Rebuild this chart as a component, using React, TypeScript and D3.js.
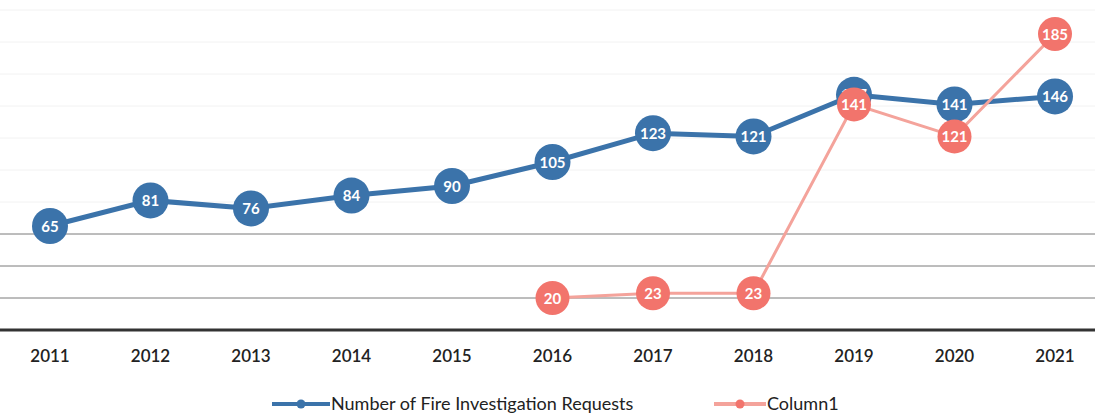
import { useEffect, useRef } from 'react';
import * as d3 from 'd3';

const years = ['2011', '2012', '2013', '2014', '2015', '2016', '2017', '2018', '2019', '2020', '2021'];
const requests: (number | null)[] = [65, 81, 76, 84, 90, 105, 123, 121, 147, 141, 146];
const column1: (number | null)[] = [null, null, null, null, null, 20, 23, 23, 141, 121, 185];
const gridValues = [20, 40, 60, 80, 100, 120, 140, 160, 180, 200];

const W = 1095;
const H = 419;

export default function App() {
  const svgRef = useRef<SVGSVGElement>(null);

  useEffect(() => {
    if (!svgRef.current) return;
    const svg = d3.select(svgRef.current);
    svg.selectAll('*').remove();

    const x = d3.scalePoint<string>().domain(years).range([50, 1055]);
    const y = d3.scaleLinear().domain([0, 200]).range([330, 10]);

    // gridlines, faint like the scan's upper area
    svg.append('g')
      .selectAll('line')
      .data(gridValues)
      .join('line')
      .attr('x1', 0)
      .attr('x2', W)
      .attr('y1', d => y(d))
      .attr('y2', d => y(d))
      .attr('stroke', d => (d <= 60 ? '#7a7a7a' : '#f2f2f2'))
      .attr('stroke-width', 1);

    // x axis
    svg.append('line')
      .attr('x1', 0)
      .attr('x2', W)
      .attr('y1', y(0))
      .attr('y2', y(0))
      .attr('stroke', '#333')
      .attr('stroke-width', 3);

    svg.append('g')
      .selectAll('text')
      .data(years)
      .join('text')
      .attr('x', d => x(d)!)
      .attr('y', y(0) + 32)
      .attr('text-anchor', 'middle')
      .style('font-family', 'Lato, "Open Sans", sans-serif')
      .style('font-size', '17px')
      .style('font-weight', 600)
      .style('fill', '#222')
      .text(d => d);

    const series = [
      { name: 'Column1', values: column1, line: '#f4a39b', marker: '#f2746c', width: 3, r: 17 },
      { name: 'Number of Fire Investigation Requests', values: requests, line: '#3b73aa', marker: '#3b73aa', width: 5, r: 18 },
    ];

    const line = d3.line<number | null>()
      .defined(d => d !== null)
      .x((_, i) => x(years[i])!)
      .y(d => y(d as number));

    // blue first, then red on top
    const order = [series[1], series[0]];
    order.forEach(s => {
      svg.append('path')
        .datum(s.values)
        .attr('d', line)
        .attr('fill', 'none')
        .attr('stroke', s.line)
        .attr('stroke-width', s.width);
    });
    order.forEach(s => {
      const pts = s.values
        .map((v, i) => ({ v, year: years[i] }))
        .filter(p => p.v !== null);
      const g = svg.append('g');
      g.selectAll('circle')
        .data(pts)
        .join('circle')
        .attr('cx', d => x(d.year)!)
        .attr('cy', d => y(d.v as number))
        .attr('r', s.r)
        .attr('fill', s.marker);
      g.selectAll('text')
        .data(pts)
        .join('text')
        .attr('x', d => x(d.year)!)
        .attr('y', d => y(d.v as number) + 5.5)
        .attr('text-anchor', 'middle')
        .style('font-family', 'Lato, "Open Sans", sans-serif')
        .style('font-size', '15px')
        .style('font-weight', 700)
        .style('fill', '#fff')
        .text(d => String(d.v));
    });

    // legend
    const legendItems = [
      { label: series[1].name, color: series[1].line, marker: series[1].marker, x: 272, w: 58 },
      { label: series[0].name, color: series[0].line, marker: series[0].marker, x: 714, w: 52 },
    ];
    legendItems.forEach(item => {
      const lg = svg.append('g').attr('transform', `translate(${item.x},404)`);
      lg.append('line')
        .attr('x1', 0)
        .attr('x2', item.w)
        .attr('y1', 0)
        .attr('y2', 0)
        .attr('stroke', item.color)
        .attr('stroke-width', 4);
      lg.append('circle')
        .attr('cx', item.w / 2)
        .attr('cy', 0)
        .attr('r', 4.5)
        .attr('fill', item.marker);
      lg.append('text')
        .attr('x', item.w + 1)
        .attr('y', 6)
        .style('font-family', 'Lato, "Open Sans", sans-serif')
        .style('font-size', '18px')
        .style('fill', '#222')
        .text(item.label);
    });
  }, []);

  return (
    <div style={{ position: 'absolute', left: 0, top: 0, background: '#fff' }}>
      <svg ref={svgRef} width={W} height={H} style={{ display: 'block' }}></svg>
    </div>
  );
}
